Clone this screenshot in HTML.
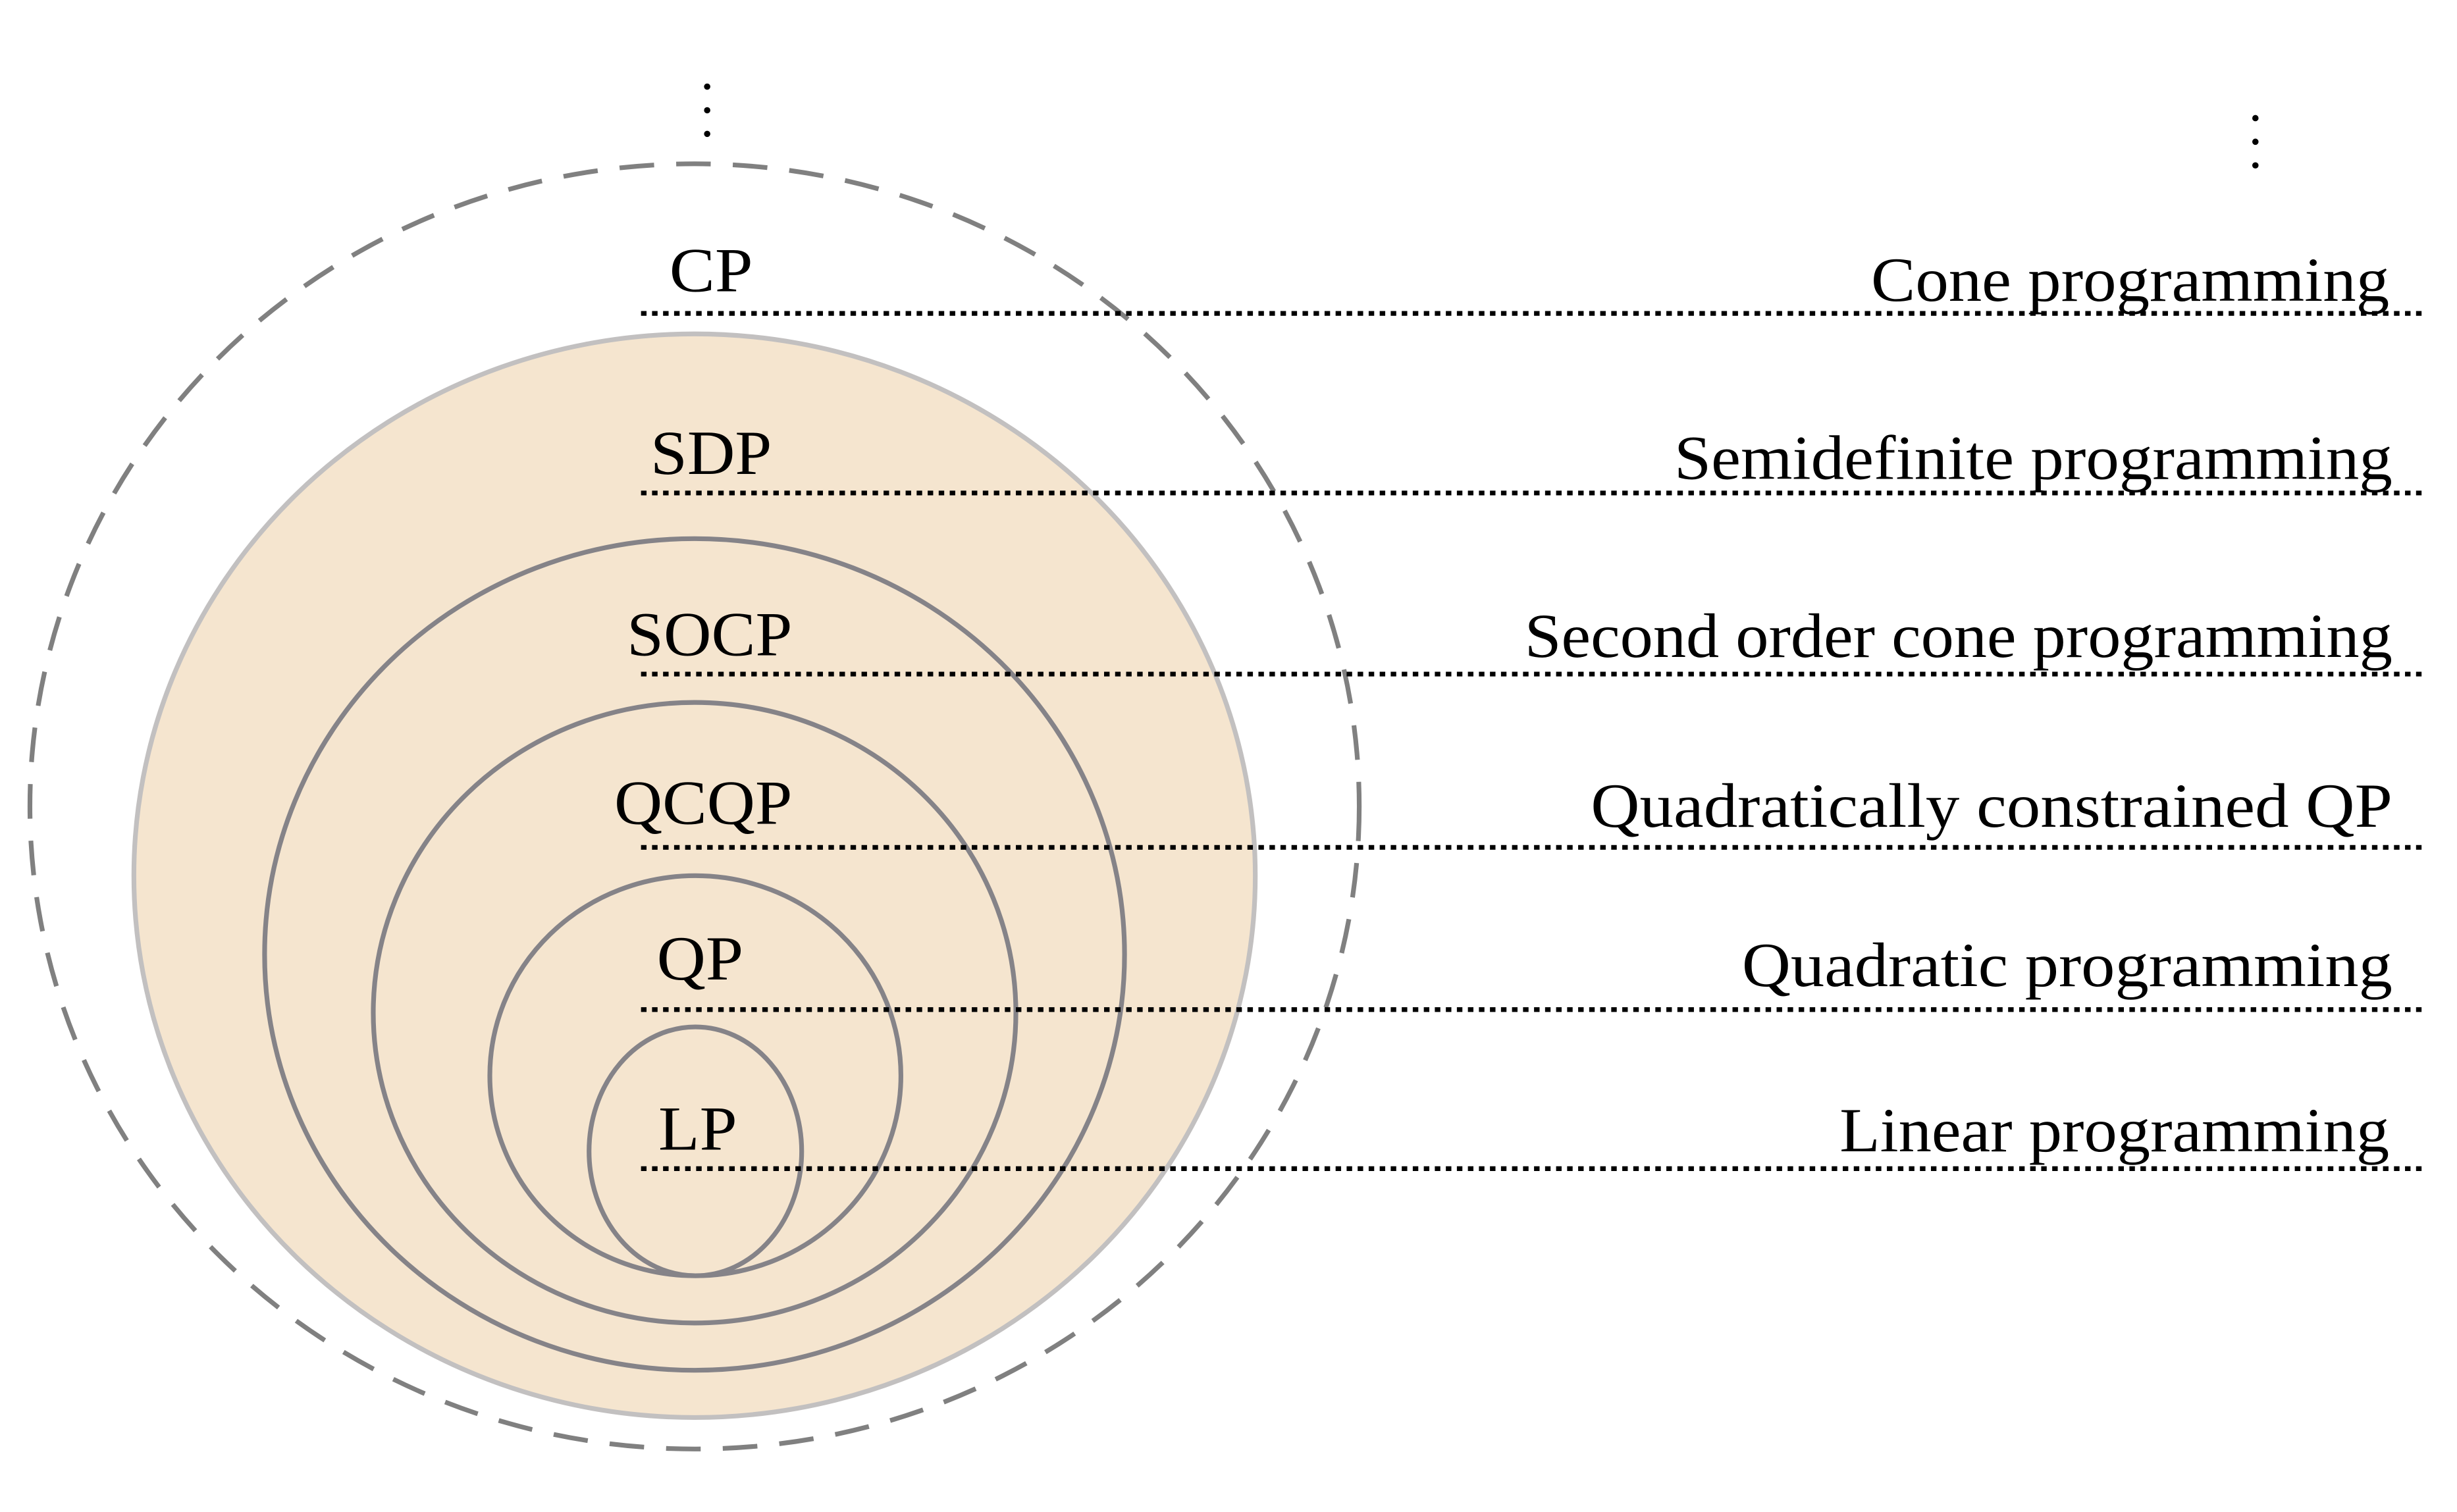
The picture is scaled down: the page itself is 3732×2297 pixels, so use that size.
<!DOCTYPE html>
<html><head><meta charset="utf-8"><style>
html,body{margin:0;padding:0;background:#fff}
svg{display:block}
text{font-family:"Liberation Serif",serif;font-size:40px;fill:#000}
</style></head><body>
<svg width="3732" height="2297" viewBox="0 0 1560 960" preserveAspectRatio="none" xmlns="http://www.w3.org/2000/svg">
<ellipse cx="441" cy="512" rx="422" ry="408" fill="none" stroke="#808080" stroke-width="3" stroke-dasharray="22 14"/>
<ellipse cx="441" cy="556" rx="356" ry="344" fill="#f5e5cf" stroke="#c2c0c0" stroke-width="3"/>
<g fill="none" stroke="#858388" stroke-width="3">
<ellipse cx="441" cy="606" rx="273" ry="264"/>
<ellipse cx="441" cy="643" rx="204" ry="197"/>
<ellipse cx="441.5" cy="683" rx="130.5" ry="127"/>
<ellipse cx="441.5" cy="731" rx="67.5" ry="79"/>
</g>
<g stroke="#000" stroke-width="3" stroke-dasharray="3.5 3.5">
<line x1="407" y1="199" x2="1540" y2="199"/>
<line x1="407" y1="313" x2="1540" y2="313"/>
<line x1="407" y1="428" x2="1540" y2="428"/>
<line x1="407" y1="538" x2="1540" y2="538"/>
<line x1="407" y1="641" x2="1540" y2="641"/>
<line x1="407" y1="742" x2="1540" y2="742"/>
</g>
<g fill="#000">
<circle cx="449" cy="55" r="2"/><circle cx="449" cy="70" r="2"/><circle cx="449" cy="85" r="2"/>
<circle cx="1432" cy="75" r="2"/><circle cx="1432" cy="90" r="2"/><circle cx="1432" cy="105" r="2"/>
</g>
<text x="425" y="185" textLength="53" lengthAdjust="spacingAndGlyphs">CP</text>
<text x="413" y="301" textLength="77" lengthAdjust="spacingAndGlyphs">SDP</text>
<text x="398" y="416" textLength="105" lengthAdjust="spacingAndGlyphs">SOCP</text>
<text x="390" y="523" textLength="113" lengthAdjust="spacingAndGlyphs">QCQP</text>
<text x="417" y="622" textLength="55" lengthAdjust="spacingAndGlyphs">QP</text>
<text x="418" y="730" textLength="50" lengthAdjust="spacingAndGlyphs">LP</text>
<text x="1188" y="191" textLength="329" lengthAdjust="spacingAndGlyphs">Cone programming</text>
<text x="1063" y="304" textLength="456" lengthAdjust="spacingAndGlyphs">Semidefinite programming</text>
<text x="968" y="417" textLength="551" lengthAdjust="spacingAndGlyphs">Second order cone programming</text>
<text x="1010" y="525" textLength="509" lengthAdjust="spacingAndGlyphs">Quadratically constrained QP</text>
<text x="1106" y="626" textLength="413" lengthAdjust="spacingAndGlyphs">Quadratic programming</text>
<text x="1168" y="731" textLength="349" lengthAdjust="spacingAndGlyphs">Linear programming</text>
</svg>
</body></html>
